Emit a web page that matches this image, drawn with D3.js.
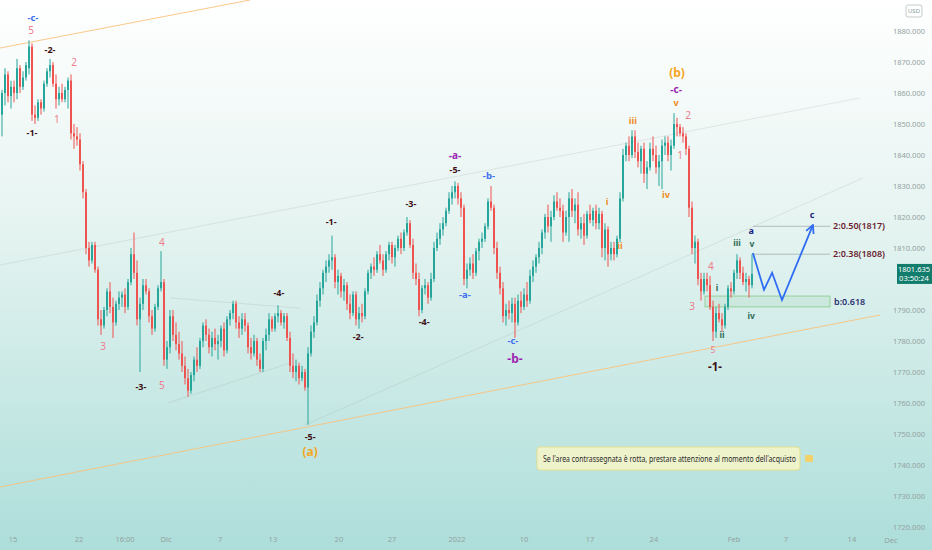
<!DOCTYPE html>
<html>
<head>
<meta charset="utf-8">
<script src="https://cdn.jsdelivr.net/npm/d3@7"></script>
<style>
  html, body { margin: 0; padding: 0; overflow: hidden; background: #fff; }
  svg { display: block; font-family: "Noto Sans", sans-serif; }
</style>
</head>
<body>
<svg width="932" height="550"></svg>
<script>
// candles as [open, high, low, close], one block per stretch of the chart
const seg0 = [
  [1853,1861,1846,1860],[1860,1868,1856,1866],[1866,1867,1857,1859],[1859,1864,1855,1862],
  [1862,1864,1857,1860],[1860,1871,1858,1868],[1868,1869,1860,1862],[1862,1867,1861,1865],
  [1865,1870,1864,1869],[1868,1877,1866,1875],[1875,1876,1851,1853],[1853,1856,1850,1852],
  [1852,1858,1851,1857],[1857,1858,1853,1855],[1855,1864,1854,1863],[1863,1868,1862,1867],
  [1867,1871,1865,1869],[1869,1870,1862,1863],[1863,1866,1855,1858],[1858,1862,1856,1860],
  [1860,1863,1857,1858],[1858,1862,1857,1861],[1861,1865,1855,1864],[1864,1866,1845,1847],
  [1847,1850,1842,1846],[1846,1849,1843,1845],[1845,1847,1835,1837],[1837,1838,1826,1828],
  [1828,1829,1808,1810],[1810,1812,1804,1806],[1806,1812,1805,1811],[1811,1812,1802,1803],
  [1803,1804,1785,1787],[1787,1790,1782,1785],[1785,1791,1784,1790],[1790,1797,1788,1796],
  [1796,1799,1789,1791],[1791,1794,1781,1786],[1786,1793,1785,1792],[1792,1796,1790,1794]
];
const seg1 = [
  [1794,1796,1791,1795],[1795,1797,1789,1791],[1791,1800,1790,1799],[1799,1810,1798,1808],
  [1808,1815,1800,1802],[1802,1806,1785,1787],[1787,1794,1770,1792],[1792,1800,1790,1798],
  [1798,1800,1795,1796],[1796,1797,1786,1788],[1788,1790,1782,1784],[1784,1792,1783,1791],
  [1791,1798,1790,1797],[1797,1809,1796,1799],[1799,1800,1772,1774],[1774,1780,1771,1778],
  [1778,1790,1776,1788],[1788,1790,1780,1782],[1782,1786,1777,1779],[1779,1783,1774,1776],
  [1776,1780,1770,1772],[1772,1775,1766,1768],[1768,1771,1762,1764],[1764,1770,1763,1769],
  [1769,1775,1767,1774],[1774,1778,1770,1772],[1772,1781,1771,1780],[1780,1786,1778,1785],
  [1785,1787,1780,1782],[1782,1784,1776,1778],[1778,1783,1775,1781],[1781,1784,1777,1779],
  [1779,1782,1774,1780],[1780,1785,1778,1784],[1784,1786,1775,1777],[1777,1788,1776,1787],
  [1787,1790,1785,1789],[1789,1793,1787,1792],[1792,1793,1784,1786],[1786,1788,1781,1784]
];
const seg2 = [
  [1784,1789,1782,1787],[1787,1789,1783,1785],[1785,1786,1776,1778],[1778,1781,1774,1776],
  [1776,1782,1775,1780],[1780,1781,1772,1774],[1774,1776,1770,1771],[1771,1781,1770,1780],
  [1780,1784,1777,1782],[1782,1789,1780,1787],[1787,1788,1783,1784],[1784,1789,1783,1788],
  [1788,1791.5,1786,1789],[1789,1790,1785,1786],[1786,1789,1784,1788],[1788,1789,1780,1781],
  [1781,1783,1770,1772],[1772,1776,1768,1770],[1770,1774,1767,1772],[1772,1773,1766,1768],
  [1768,1772,1767,1770],[1770,1771,1764,1765],[1765,1778,1753,1776],[1776,1785,1775,1783],
  [1783,1788,1781,1786],[1786,1795,1785,1793],[1793,1799,1791,1797],[1797,1803,1795,1802],
  [1802,1806,1799,1804],[1804,1808,1802,1806],[1806,1814,1803,1807],[1807,1808,1797,1799],
  [1799,1803,1795,1801],[1801,1802,1794,1796],[1796,1800,1793,1798],[1798,1799,1790,1792],
  [1792,1795,1787,1789],[1789,1796,1788,1795],[1795,1796,1785,1787],[1787,1791,1784,1789]
];
const seg3 = [
  [1789,1792,1786,1788],[1788,1797,1787,1796],[1796,1803,1795,1802],[1802,1805,1800,1804],
  [1804,1807,1801,1803],[1803,1809,1802,1808],[1808,1811,1805,1806],[1806,1808,1801,1803],
  [1803,1809,1802,1808],[1808,1812,1806,1811],[1811,1812,1805,1807],[1807,1811,1804,1810],
  [1810,1814,1809,1813],[1813,1815,1808,1810],[1810,1816,1809,1815],[1815,1820,1814,1818],
  [1818,1819,1810,1811],[1811,1813,1800,1802],[1802,1805,1798,1800],[1800,1802,1788,1790],
  [1790,1798,1789,1797],[1797,1800,1795,1798],[1798,1799,1792,1794],[1794,1802,1793,1800],
  [1800,1812,1799,1810],[1810,1815,1809,1813],[1813,1818,1811,1816],[1816,1820,1814,1818],
  [1818,1823,1817,1822],[1822,1828,1821,1826],[1826,1830,1824,1828],[1828,1831.5,1826,1830],
  [1830,1831,1824,1826],[1826,1828,1820,1823],[1823,1824,1798,1800],[1800,1805,1797,1803],
  [1803,1807,1801,1805],[1805,1808,1800,1802],[1802,1810,1801,1809],[1809,1813,1806,1812]
];
const seg4 = [
  [1812,1815,1810,1813],[1813,1818,1812,1817],[1817,1826,1816,1825],[1825,1830,1822,1823],
  [1823,1824,1808,1810],[1810,1812,1800,1802],[1802,1804,1795,1797],[1797,1799,1786,1788],
  [1788,1792,1785,1790],[1790,1793,1787,1789],[1789,1794,1786,1792],[1792,1794,1781,1786],
  [1786,1795,1785,1793],[1793,1796,1789,1791],[1791,1797,1790,1795],[1795,1799,1791,1793],
  [1793,1803,1792,1801],[1801,1806,1799,1804],[1804,1808,1802,1807],[1807,1812,1805,1810],
  [1810,1816,1808,1815],[1815,1821,1813,1820],[1820,1824,1815,1817],[1817,1822,1812,1820],
  [1820,1827,1819,1825],[1825,1828,1822,1823],[1823,1826,1820,1822],[1822,1824,1812,1815],
  [1815,1822,1814,1820],[1820,1828,1812,1826],[1826,1829,1820,1822],[1822,1826,1818,1824],
  [1824,1828,1814,1816],[1816,1820,1813,1818],[1818,1821,1811,1814],[1814,1822,1813,1821],
  [1821,1824,1818,1819],[1819,1823,1817,1822],[1822,1824,1816,1818],[1818,1823,1816,1821]
];
const seg5 = [
  [1821,1822,1807,1810],[1810,1818,1806,1816],[1816,1817,1804,1808],[1808,1812,1806,1810],
  [1810,1812,1806,1808],[1808,1814,1807,1813],[1813,1828,1812,1826],[1826,1842,1825,1840],
  [1840,1844,1838,1843],[1843,1846,1838,1840],[1840,1848,1839,1846],[1846,1848,1839,1841],
  [1841,1844,1836,1838],[1838,1843,1834,1842],[1842,1844,1831,1834],[1834,1838,1829,1836],
  [1836,1844,1835,1842],[1842,1846,1838,1840],[1840,1843,1834,1836],[1836,1840,1830,1838],
  [1838,1845,1829,1843],[1843,1846,1840,1844],[1844,1846,1838,1840],[1840,1845,1835,1843],
  [1843,1853.5,1842,1850],[1850,1852,1846,1849],[1849,1850,1846,1847],[1847,1849,1844,1846],
  [1846,1847,1840,1842],[1842,1843,1820,1823],[1823,1825,1808,1810],[1810,1814,1805,1812],
  [1812,1813,1798,1800],[1800,1802,1793,1796],[1796,1802,1795,1800],[1800,1802,1796,1798],
  [1798,1801,1790,1791],[1791,1793,1780,1783],[1783,1791,1781,1789],[1789,1792,1786,1787],
  [1787,1789,1783,1785],[1785,1792,1784,1791],[1791,1798,1790,1797],[1797,1799,1794,1796],
  [1796,1803,1795,1802],[1802,1808,1800,1806],[1806,1807,1800,1802],[1802,1804,1798,1799],
  [1799,1802,1796,1800],[1800,1801,1794,1798],[1798,1808,1797,1801.635]
];

// 1800 sits under the last-price badge, so it is not listed
const priceTicks = [1720, 1730, 1740, 1750, 1760, 1770, 1780, 1790, 1810, 1820, 1830, 1840, 1850, 1860, 1870, 1880];
const timeTickPos = [3.7, 25.7, 41, 54.7, 72.7, 90.3, 112.3, 130, 151.7, 174, 196, 217.3, 244, 261.3, 283.3];
const timeTickText = ["15", "22", "16:00", "Dic", "7", "13", "20", "27", "2022", "10", "17", "24", "Feb", "7", "14"];

// trend lines: [idx1, price1, idx2, price2]
const orangeLines = [[-0.7, 1874.5, 82.7, 1890], [-0.7, 1732.9, 292.7, 1788.4]];
const grayLines = [
  [-0.7, 1804.5, 286, 1858.4],
  [101, 1752.9, 287, 1832.6],
  [56, 1793.9, 99.3, 1790.6],
  [55.3, 1760, 96, 1772.9]
];

const fibPrices = [1817, 1808];
const fibNames = ["2:0.50(1817)", "2:0.38(1808)"];
const zoneTop = 1794.5;
const zoneBottom = 1791;

const projIdx = [250.3, 254, 256.7, 260, 270.3];
const projPrice = [1808.4, 1796.5, 1802, 1793.2, 1817.4];

// [text, idx, price, style]
const waveLabels = [
  ["-c-", 10.3, 1884.2, "blue"], ["5", 9.7, 1880.3, "pink"], ["-2-", 16, 1873.9, "dark"],
  ["2", 24, 1869.7, "pink"], ["1", 18.3, 1851.3, "pink"], ["-1-", 10, 1847.1, "dark"],
  ["4", 53.3, 1811.9, "pink"], ["3", 33.7, 1778.1, "pink"], ["-3-", 46.3, 1765.2, "dark"],
  ["5", 53.3, 1765.8, "pink"], ["-4-", 92.3, 1795.5, "dark"], ["-5-", 102.7, 1749, "dark"],
  ["(a)", 102.7, 1744.2, "amber"], ["-1-", 109.7, 1818.4, "dark"], ["-2-", 118.7, 1781.3, "dark"],
  ["-3-", 136.3, 1824.2, "dark"], ["-4-", 140.7, 1786.1, "dark"], ["-5-", 151, 1835.2, "dark"],
  ["-a-", 151, 1840, "purple"], ["-a-", 154.3, 1794.8, "blue"], ["-b-", 162.3, 1833.2, "blue"],
  ["-c-", 170.3, 1780, "blue"], ["-b-", 171, 1774.2, "purpleBig"],
  ["i", 201.7, 1824.8, "orange"], ["ii", 206, 1810.6, "orange"], ["iii", 210.3, 1851, "orange"],
  ["iv", 221.3, 1827.1, "orange"], ["v", 224.7, 1856.8, "orange"], ["-c-", 224.7, 1861, "purple"],
  ["(b)", 225, 1866.5, "amber"], ["2", 228.7, 1852.6, "pink"], ["1", 226, 1840, "pink"],
  ["4", 236.3, 1803.9, "pink"], ["3", 230, 1791, "pink"], ["5", 237, 1777, "pinkSmall"],
  ["-1-", 237.7, 1771.6, "darkBig"], ["i", 238.3, 1797.1, "green"], ["ii", 240, 1781.9, "green"],
  ["iii", 245, 1811.6, "green"], ["iv", 249.7, 1788.1, "green"], ["v", 250, 1811.2, "green"],
  ["a", 249.7, 1815.6, "navy"], ["c", 270, 1820.6, "navy"]
];

const note = "Se l'area contrassegnata è rotta, prestare attenzione al momento dell'acquisto";
const lastPrice = "1801.635";
const countdown = "03:50:24";

const labelStyle = {
  pink: { fill: "#ee7d8e", size: 10, weight: 400 },
  pinkSmall: { fill: "#ee7d8e", size: 8.5, weight: 400 },
  dark: { fill: "#3d1015", size: 9, weight: 700 },
  darkBig: { fill: "#3d1015", size: 11.5, weight: 700 },
  blue: { fill: "#3f6ff0", size: 9.5, weight: 700 },
  purple: { fill: "#9c27b0", size: 10, weight: 700 },
  purpleBig: { fill: "#9c27b0", size: 12, weight: 700 },
  orange: { fill: "#ef8a1c", size: 9, weight: 700 },
  amber: { fill: "#f5a623", size: 12, weight: 700 },
  green: { fill: "#2e6b55", size: 8.5, weight: 700 },
  navy: { fill: "#1a237e", size: 9, weight: 700 }
};

const candles = [...seg0, ...seg1, ...seg2, ...seg3, ...seg4, ...seg5]
  .map(([o, h, l, c], i) => ({ i, o, h, l, c }));

const svg = d3.select("svg");
const W = 932, H = 550;
const x = d3.scaleLinear().domain([0, 310]).range([2, 932]);
const y = d3.scaleLinear().domain([1880, 1720]).range([31, 527]);

const defs = svg.append("defs");
const grad = defs.append("linearGradient").attr("id", "bg").attr("x1", 0).attr("y1", 0).attr("x2", 0).attr("y2", 1);
grad.append("stop").attr("offset", 0).attr("stop-color", "#ffffff");
grad.append("stop").attr("offset", 0.4).attr("stop-color", "#e6f4f1");
grad.append("stop").attr("offset", 1).attr("stop-color", "#addeda");
defs.append("marker").attr("id", "arrow")
  .attr("viewBox", "0 0 10 10").attr("refX", 9).attr("refY", 5)
  .attr("markerWidth", 10).attr("markerHeight", 10).attr("markerUnits", "userSpaceOnUse")
  .attr("orient", "auto")
  .append("path").attr("d", "M1,1 L9,5 L1,9").attr("fill", "none")
  .attr("stroke", "#2f6df5").attr("stroke-width", 1.8);

svg.append("rect").attr("width", W).attr("height", H).attr("fill", "url(#bg)");

const lineAt = d => [[x(d[0]), y(d[1])], [x(d[2]), y(d[3])]];
svg.append("g").selectAll("line").data(grayLines).join("line")
  .attr("x1", d => lineAt(d)[0][0]).attr("y1", d => lineAt(d)[0][1])
  .attr("x2", d => lineAt(d)[1][0]).attr("y2", d => lineAt(d)[1][1])
  .attr("stroke", "#9aa6a6").attr("stroke-opacity", 0.28).attr("stroke-width", 0.8);
svg.append("g").selectAll("line").data(orangeLines).join("line")
  .attr("x1", d => lineAt(d)[0][0]).attr("y1", d => lineAt(d)[0][1])
  .attr("x2", d => lineAt(d)[1][0]).attr("y2", d => lineAt(d)[1][1])
  .attr("stroke", "#f9c27c").attr("stroke-width", 0.9);

// zone and fib levels
const fibX0 = x(250.3), fibX1 = 830;
svg.append("rect")
  .attr("x", 705).attr("y", y(zoneTop)).attr("width", fibX1 - 705).attr("height", y(zoneBottom) - y(zoneTop))
  .attr("fill", "#66bb6a").attr("fill-opacity", 0.1).attr("stroke", "#86c888").attr("stroke-width", 0.8);
svg.append("g").selectAll("line").data(fibPrices).join("line")
  .attr("x1", fibX0).attr("x2", fibX1).attr("y1", d => y(d)).attr("y2", d => y(d))
  .attr("stroke", "#a3adad").attr("stroke-width", 0.8);
svg.append("g").selectAll("text").data(fibNames).join("text")
  .attr("x", 833).attr("y", (d, i) => y(fibPrices[i]))
  .attr("dy", "0.35em").attr("font-size", 9).attr("font-weight", 600)
  .attr("fill", "#6a1c30").text(d => d);
svg.append("text").attr("x", 834).attr("y", y((zoneTop + zoneBottom) / 2)).attr("dy", "0.35em")
  .attr("font-size", 9).attr("font-weight", 600).attr("fill", "#283070").text("b:0.618");

// candles
const up = "#26a69a", down = "#ef5350";
const cg = svg.append("g");
cg.selectAll("rect.wick").data(candles).join("rect").attr("class", "wick")
  .attr("x", d => x(d.i) - 0.5).attr("width", 1)
  .attr("y", d => y(d.h)).attr("height", d => Math.max(1, y(d.l) - y(d.h)))
  .attr("fill", d => d.c >= d.o ? up : down);
cg.selectAll("rect.body").data(candles).join("rect").attr("class", "body")
  .attr("x", d => x(d.i) - 1).attr("width", 2)
  .attr("y", d => y(Math.max(d.o, d.c))).attr("height", d => Math.max(1, Math.abs(y(d.o) - y(d.c))))
  .attr("fill", d => d.c >= d.o ? up : down);

// projected path
svg.append("path")
  .attr("d", d3.line()(projIdx.map((v, i) => [x(v), y(projPrice[i])])))
  .attr("fill", "none").attr("stroke", "#2f6df5").attr("stroke-width", 1.8)
  .attr("marker-end", "url(#arrow)");

// wave labels
svg.append("g").selectAll("text").data(waveLabels).join("text")
  .attr("x", d => x(d[1])).attr("y", d => y(d[2]))
  .attr("text-anchor", "middle").attr("dy", "0.35em")
  .attr("font-size", d => labelStyle[d[3]].size)
  .attr("font-weight", d => labelStyle[d[3]].weight)
  .attr("fill", d => labelStyle[d[3]].fill)
  .text(d => d[0]);

// note box
svg.append("rect").attr("x", 537).attr("y", 447).attr("width", 263).attr("height", 23).attr("rx", 3)
  .attr("fill", "#f7f6c8").attr("fill-opacity", 0.85).attr("stroke", "#e2e08c");
svg.append("text").attr("x", 543).attr("y", 459).attr("dy", "0.35em")
  .attr("font-size", 9).attr("fill", "#2b2b2b")
  .attr("textLength", 253).attr("lengthAdjust", "spacingAndGlyphs").text(note);
svg.append("rect").attr("x", 805).attr("y", 455).attr("width", 8).attr("height", 7).attr("rx", 1)
  .attr("fill", "#f2d36b");

// axes
svg.append("g").selectAll("text").data(priceTicks).join("text")
  .attr("x", 925).attr("y", d => y(d)).attr("dy", "0.35em").attr("text-anchor", "end")
  .attr("font-size", 7.5).attr("fill", "#93a2a1").text(d => d3.format(".3f")(d));
svg.append("g").selectAll("text").data(timeTickText).join("text")
  .attr("x", (d, i) => x(timeTickPos[i])).attr("y", 539).attr("dy", "0.35em").attr("text-anchor", "middle")
  .attr("font-size", 7.5).attr("fill", "#93a2a1").text(d => d);
svg.append("text").attr("x", 891).attr("y", 540).attr("dy", "0.35em").attr("text-anchor", "middle")
  .attr("font-size", 7.5).attr("fill", "#93a2a1").text("Dec");

// USD badge
svg.append("rect").attr("x", 906).attr("y", 5).attr("width", 16).attr("height", 12).attr("rx", 2)
  .attr("fill", "none").attr("stroke", "#b5c0c0").attr("stroke-width", 0.8);
svg.append("text").attr("x", 914).attr("y", 11).attr("dy", "0.35em").attr("text-anchor", "middle")
  .attr("font-size", 6).attr("fill", "#8b9b9a").text("USD");

// last price badge
const lp = y(+lastPrice);
svg.append("rect").attr("x", 897).attr("y", lp - 10).attr("width", 35).attr("height", 20)
  .attr("fill", "#127d6d");
svg.append("text").attr("x", 914).attr("y", lp - 4.5).attr("dy", "0.35em").attr("text-anchor", "middle")
  .attr("font-size", 7.5).attr("fill", "#ffffff").text(lastPrice);
svg.append("text").attr("x", 914).attr("y", lp + 4.5).attr("dy", "0.35em").attr("text-anchor", "middle")
  .attr("font-size", 7.5).attr("fill", "#ffffff").text(countdown);
</script>
</body>
</html>
